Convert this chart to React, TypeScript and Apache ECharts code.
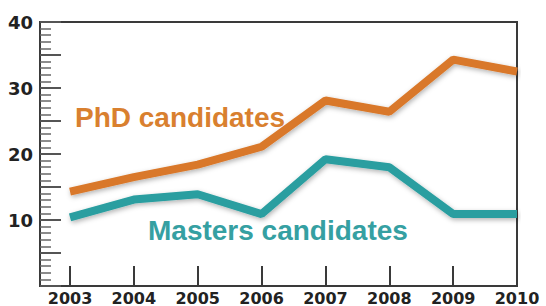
import React, { useEffect, useRef } from "react";
import * as echarts from "echarts";

const years = [2003, 2004, 2005, 2006, 2007, 2008, 2009, 2010];
const phd = [14.3, 16.5, 18.4, 21.1, 28.1, 26.4, 34.3, 32.5];
const masters = [10.4, 13.1, 13.9, 10.9, 19.2, 18.0, 10.9, 10.9];
const phdLabel = "PhD candidates";
const mastersLabel = "Masters candidates";

const ORANGE = "#d9782a";
const ORANGE_TEXT = "#d9802f";
const TEAL = "#2a9ea0";
const TEAL_TEXT = "#35a0a2";
const AXIS = "#3a3a3a";
const TICKFONT = "DejaVu Sans, sans-serif";
const FONT = "Liberation Sans, Arial, sans-serif";

export default function App() {
  const ref = useRef<HTMLDivElement>(null);
  useEffect(() => {
    if (!ref.current) return;
    const chart = echarts.init(ref.current, undefined, { renderer: "svg" });
    const lineStyle = (c: string) => ({
      color: c,
      width: 8,
      shadowBlur: 5,
      shadowColor: "rgba(0,0,0,0.3)",
      shadowOffsetX: 1,
      shadowOffsetY: 2,
    });
    const textStyle = (t: string, c: string, x: number, y: number) => ({
      type: "text",
      x,
      y,
      z: 10,
      style: {
        text: t,
        x: 0,
        y: 0,
        fill: c,
        font: `bold 28px ${FONT}`,
        textVerticalAlign: "middle",
        shadowBlur: 3,
        shadowColor: "rgba(0,0,0,0.25)",
        shadowOffsetX: 1,
        shadowOffsetY: 1,
      },
    });
    chart.setOption({
      animation: false,
      backgroundColor: "#ffffff",
      grid: {
        left: 40,
        right: 29,
        top: 22,
        bottom: 19,
        show: true,
        borderColor: AXIS,
        borderWidth: 2,
        backgroundColor: "transparent",
      },
      xAxis: {
        type: "value",
        min: 2002.53,
        max: 2010,
        axisLine: { show: true, lineStyle: { color: AXIS, width: 2 } },
        axisTick: {
          show: true,
          inside: true,
          length: 20,
          customValues: years,
          lineStyle: { color: AXIS, width: 2 },
        },
        axisLabel: {
          show: true,
          customValues: years,
          fontFamily: TICKFONT,
          fontWeight: "bold",
          fontSize: 16,
          color: "#222",
          margin: 4,
          formatter: (v: number) => String(v),
        },
        splitLine: { show: false },
      },
      yAxis: [
        {
          type: "value",
          min: 0,
          max: 40,
          interval: 1,
          axisLine: { show: true, lineStyle: { color: AXIS, width: 2 } },
          axisTick: { show: true, inside: true, length: 11, lineStyle: { color: "#666", width: 1.5 } },
          axisLabel: { show: false },
          splitLine: { show: false },
        },
        {
          type: "value",
          min: 0,
          max: 40,
          interval: 5,
          position: "left",
          axisLine: { show: false },
          axisTick: { show: true, inside: true, length: 21, lineStyle: { color: "#555", width: 2 } },
          axisLabel: {
            show: true,
            fontFamily: TICKFONT,
            fontWeight: "bold",
            fontSize: 18,
            color: "#222",
            margin: 7,
            formatter: (v: number) => (v > 0 && v % 10 === 0 ? String(v) : ""),
          },
          splitLine: { show: false },
        },
      ],
      series: [
        {
          type: "line",
          data: phd.map((v, i) => [years[i], v]),
          symbol: "none",
          lineStyle: lineStyle(ORANGE),
          z: 3,
        },
        {
          type: "line",
          data: masters.map((v, i) => [years[i], v]),
          symbol: "none",
          lineStyle: lineStyle(TEAL),
          z: 3,
        },
      ],
      graphic: [
        textStyle(phdLabel, ORANGE_TEXT, 75, 117),
        textStyle(mastersLabel, TEAL_TEXT, 148, 230),
      ],
    });
    return () => chart.dispose();
  }, []);
  return <div ref={ref} style={{ width: 546, height: 306, position: "fixed", left: 0, top: 0 }} />;
}
